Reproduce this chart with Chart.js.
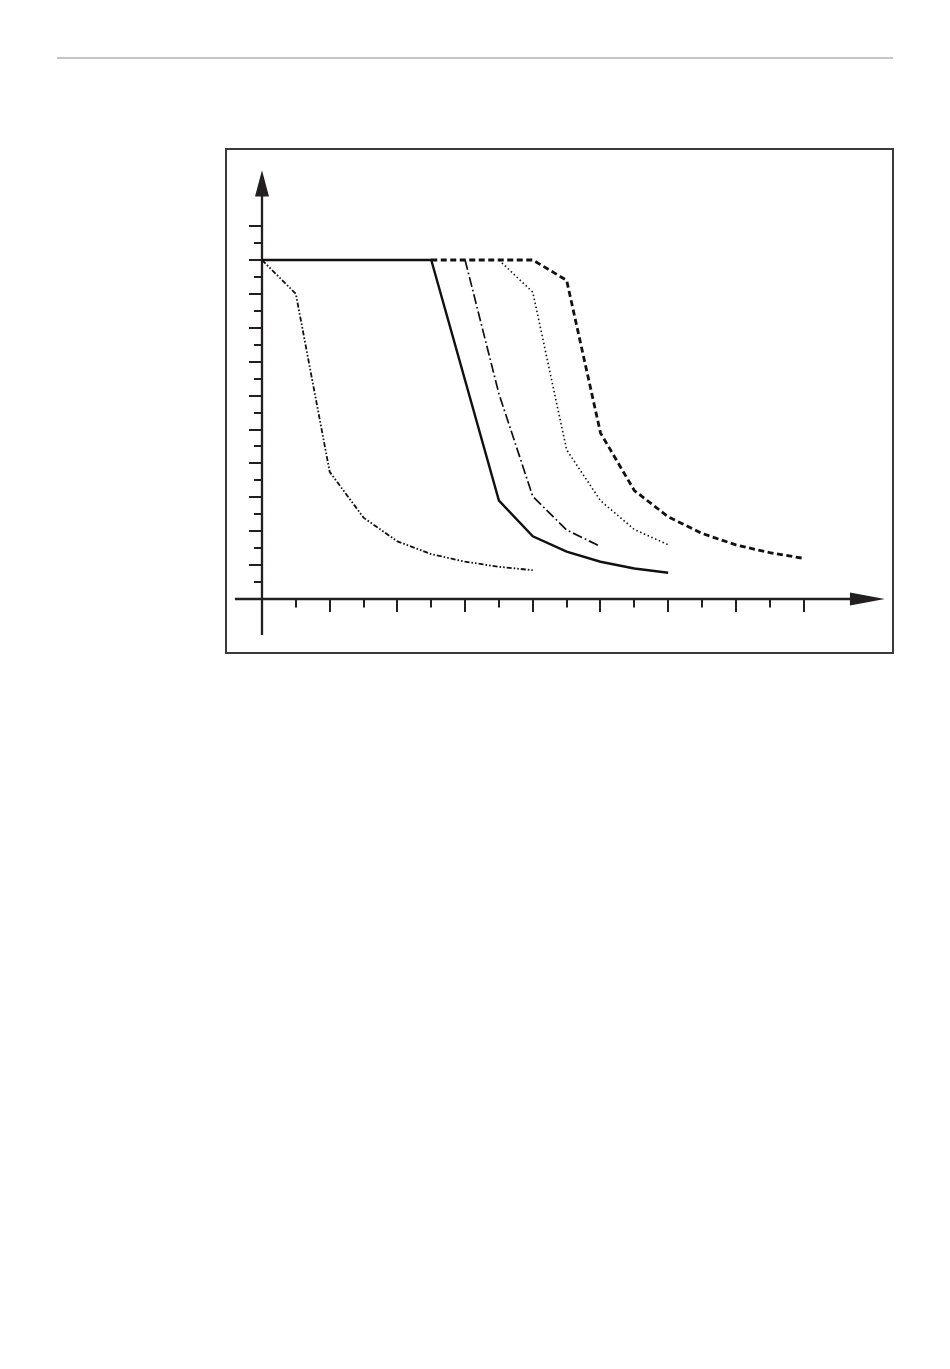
<!DOCTYPE html>
<html>
<head>
<meta charset="utf-8">
<script src="https://cdn.jsdelivr.net/npm/chart.js@4"></script>
<style>
  body { margin: 0; background: #fff; width: 950px; height: 1369px; position: relative; font-family: "DejaVu Sans", sans-serif; }
  .rule { position: absolute; left: 57px; top: 57px; width: 836px; height: 2px; background: #c6c6c6; }
  .frame { position: absolute; left: 225px; top: 148px; width: 665px; height: 502px; border: 2px solid #3a3a3a; }
  #wrap { position: absolute; left: 226px; top: 149px; width: 666px; height: 504px; }
</style>
</head>
<body>
<div class="rule"></div>
<div class="frame"></div>
<div id="wrap"><canvas id="grafico" width="666" height="504"></canvas></div>

<script>
// DATOS (x en unidades de marca, y en unidades de marca)

const xTicks = [1, 2, 3, 4, 5, 6, 7, 8, 9, 10, 11, 12, 13, 14, 15, 16];
const yTicks = [1, 2, 3, 4, 5, 6, 7, 8, 9, 10, 11, 12, 13, 14, 15, 16, 17, 18, 19, 20, 21, 22];

const solidX = [0, 5, 7, 8, 9, 10, 11, 12];
const solidY = [20, 20, 5.8, 3.7, 2.8, 2.2, 1.8, 1.55];

const dashDotDotX = [0, 1, 2, 3, 4, 5, 6, 7, 8];
const dashDotDotY = [20, 18, 7.5, 4.8, 3.4, 2.65, 2.2, 1.9, 1.7];

const dashDotX = [6, 7, 8, 9, 10];
const dashDotY = [20, 12.1, 6.05, 4.07, 3.1];

const dottedX = [7, 8, 9, 10, 11, 12];
const dottedY = [20, 18.1, 8.8, 5.8, 4.1, 3.2];

const dashedX = [5, 8, 9, 10, 11, 12, 13, 14, 15, 16];
const dashedY = [20, 20, 18.8, 9.8, 6.4, 4.85, 3.87, 3.19, 2.73, 2.4];

function puntos(xs, ys) {
    return xs.map((x, i) => ({ x: x, y: ys[i] }));
}

// EJES CON FLECHAS Y MARCAS

const ejes = {
    id: "ejes",
    beforeDatasetsDraw(chart) {
        const ctx = chart.ctx;
        const sx = chart.scales.x;
        const sy = chart.scales.y;
        const x0 = sx.getPixelForValue(0);
        const y0 = sy.getPixelForValue(0);
        const col = "#231f20";

        ctx.save();
        ctx.strokeStyle = col;
        ctx.fillStyle = col;
        ctx.lineWidth = 2.3;
        ctx.setLineDash([]);

        // eje y
        const yTop = sy.getPixelForValue(23.8);
        ctx.beginPath();
        ctx.moveTo(x0, sy.getPixelForValue(-2.12));
        ctx.lineTo(x0, yTop);
        ctx.stroke();
        ctx.beginPath();
        ctx.moveTo(x0, sy.getPixelForValue(25.3));
        ctx.lineTo(x0 - 7, yTop + 1);
        ctx.lineTo(x0 + 7, yTop + 1);
        ctx.closePath();
        ctx.fill();

        // eje x
        const xEnd = sx.getPixelForValue(17.4);
        ctx.beginPath();
        ctx.moveTo(sx.getPixelForValue(-0.8), y0);
        ctx.lineTo(xEnd, y0);
        ctx.stroke();
        ctx.beginPath();
        ctx.moveTo(sx.getPixelForValue(18.4), y0);
        ctx.lineTo(xEnd - 1, y0 - 6.5);
        ctx.lineTo(xEnd - 1, y0 + 6.5);
        ctx.closePath();
        ctx.fill();

        // marcas
        ctx.lineWidth = 2;
        xTicks.forEach(v => {
            const px = Math.round(sx.getPixelForValue(v));
            const len = v % 2 === 0 ? 13 : 8.5;
            ctx.beginPath();
            ctx.moveTo(px, y0);
            ctx.lineTo(px, y0 + len);
            ctx.stroke();
        });
        yTicks.forEach(v => {
            const py = Math.round(sy.getPixelForValue(v));
            const len = v % 2 === 0 ? 13 : 8;
            ctx.beginPath();
            ctx.moveTo(x0, py);
            ctx.lineTo(x0 - len, py);
            ctx.stroke();
        });
        ctx.restore();
    }
};

// GRAFICO

function cargaGrafico() {
    const negro = "#111111";
    const datos = {
        datasets: [
            { data: puntos(solidX, solidY), borderColor: negro, borderWidth: 2.4 },
            { data: puntos(dashDotDotX, dashDotDotY), borderColor: negro, borderWidth: 1.8, borderDash: [5, 2, 1.6, 2, 1.6, 2] },
            { data: puntos(dashDotX, dashDotY), borderColor: negro, borderWidth: 1.7, borderDash: [10, 3, 1.7, 3] },
            { data: puntos(dottedX, dottedY), borderColor: negro, borderWidth: 1.6, borderDash: [1.5, 2.6] },
            { data: puntos(dashedX, dashedY), borderColor: negro, borderWidth: 2.8, borderDash: [6, 3.5] }
        ]
    };
    new Chart(document.getElementById("grafico"), {
        type: "line",
        data: datos,
        options: {
            responsive: false,
            animation: false,
            events: [],
            layout: { padding: { left: 2.15, right: 3.8, top: 9.3, bottom: 3.15 } },
            elements: {
                point: { radius: 0 },
                line: { tension: 0, fill: false, borderCapStyle: "butt", borderJoinStyle: "miter" }
            },
            plugins: { legend: { display: false }, tooltip: { enabled: false } },
            scales: {
                x: { type: "linear", min: -1, max: 18.5, display: false },
                y: { type: "linear", min: -3, max: 26, display: false }
            }
        },
        plugins: [ejes]
    });
}

cargaGrafico();
</script>
</body>
</html>
